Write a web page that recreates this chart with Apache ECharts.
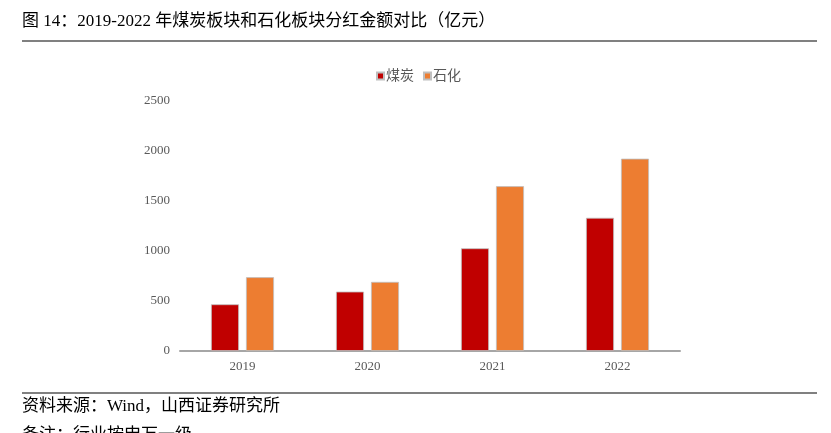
<!DOCTYPE html>
<html><head><meta charset="utf-8">
<script src="https://cdn.jsdelivr.net/npm/echarts@6/dist/echarts.min.js"></script>
<style>html,body{margin:0;padding:0;background:#fff;}#c{width:831px;height:433px;}</style>
</head><body><div id="c"></div>
<script>
const categories = ['2019', '2020', '2021', '2022'];
const coalValues = [467, 594, 1027, 1332];
const petroValues = [738, 691, 1648, 1923];
const seriesNames = ['煤炭', '石化'];
const yTicks = [0, 500, 1000, 1500, 2000, 2500];

const FONT = '"Liberation Serif", "Noto Sans CJK SC", serif';
const chart = echarts.init(document.getElementById('c'), null, {renderer: 'canvas'});
chart.setOption({
  animation: false,
  backgroundColor: '#fff',
  grid: {left: 180, right: 151, top: 101, bottom: 82, containLabel: false},
  legend: {
    data: seriesNames, top: 64, left: 371,
    itemWidth: 7, itemHeight: 7, itemGap: 9,
    icon: 'rect',
    textStyle: {fontFamily: FONT, fontSize: 14, color: '#595959', padding: [0,0,0,-3]}
  },
  xAxis: {
    type: 'category', data: categories,
    axisLine: {lineStyle: {color: '#A6A6A6', width: 2}},
    axisTick: {show: false},
    axisLabel: {fontFamily: FONT, fontSize: 13, color: '#595959', margin: 9}
  },
  yAxis: {
    type: 'value', min: yTicks[0], max: yTicks[yTicks.length-1], interval: 500,
    axisLine: {show: false}, axisTick: {show: false},
    splitLine: {show: false},
    axisLabel: {fontFamily: FONT, fontSize: 13, color: '#595959', margin: 10,
      formatter: function (v) { return String(v); }}
  },
  series: [
    {name: seriesNames[0], type: 'bar', data: coalValues, barWidth: 28, barGap: '25%',
     itemStyle: {color: '#C00000', borderColor: '#BFBFBF', borderWidth: 0.8}},
    {name: seriesNames[1], type: 'bar', data: petroValues, barWidth: 28, barGap: '25%',
     itemStyle: {color: '#ED7D31', borderColor: '#BFBFBF', borderWidth: 0.8}}
  ],
  graphic: [
    {type: 'text', left: 22, top: 13, style: {text: '图 14：2019-2022 年煤炭板块和石化板块分红金额对比（亿元）', font: '17px ' + FONT, fill: '#000'}},
    {type: 'rect', shape: {x: 22, y: 40, width: 795, height: 2}, style: {fill: '#808080'}},
    {type: 'rect', shape: {x: 22, y: 392, width: 795, height: 2}, style: {fill: '#808080'}},
    {type: 'text', left: 22, top: 398, style: {text: '资料来源：Wind，山西证券研究所', font: '17px ' + FONT, fill: '#000'}},
    {type: 'text', left: 22, top: 427, style: {text: '备注：行业按申万一级', font: '17px ' + FONT, fill: '#000'}}
  ]
});
</script></body></html>
